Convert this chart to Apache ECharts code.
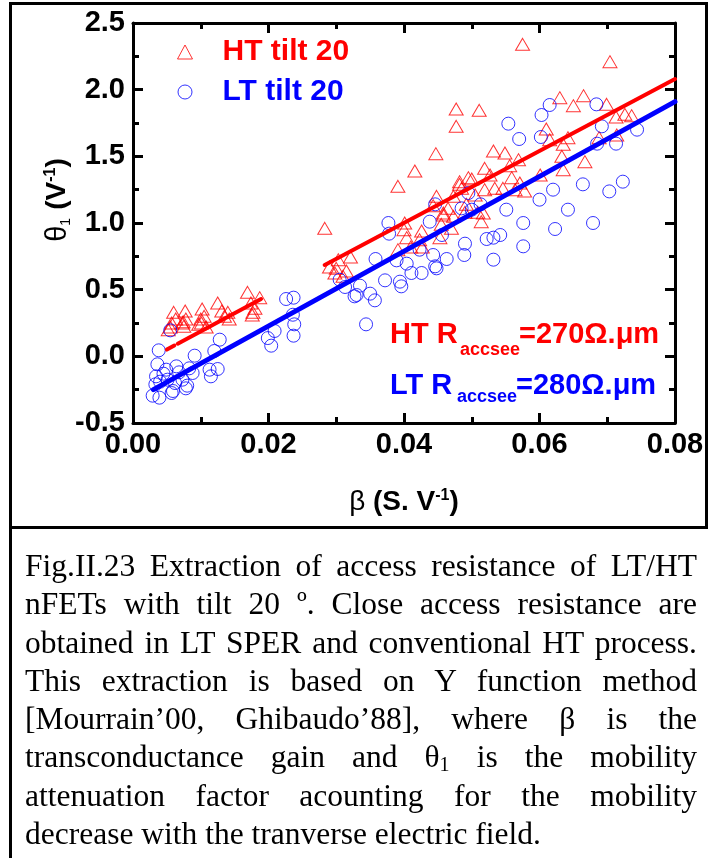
<!DOCTYPE html>
<html>
<head>
<meta charset="utf-8">
<script src="https://cdn.jsdelivr.net/npm/echarts@6/dist/echarts.min.js"></script>
<style>
  html, body { margin: 0; padding: 0; background: #fff; }
  #wrap { position: relative; width: 708px; height: 858px; overflow: hidden; background: #fff; }
  #chart { position: absolute; left: 0; top: 0; width: 708px; height: 858px; }
  .bar { position: absolute; background: #000; z-index: 5; }
  #caption { position: absolute; left: 25px; top: 547px; width: 672px; z-index: 6;
    font-family: "Liberation Serif", "Times New Roman", serif; font-size: 31.5px; line-height: 38.3px; color: #000; }
  #caption .j { text-align: justify; text-align-last: justify; }
  #caption .l { text-align: left; }
  #caption .sub { font-size: 20px; vertical-align: -4px; line-height: 0; }
</style>
</head>
<body>
<div id="wrap">
  <div id="chart"></div>
  <div class="bar" style="left:9px;top:2px;width:699px;height:3px;"></div>
  <div class="bar" style="left:9px;top:2px;width:3px;height:856px;"></div>
  <div class="bar" style="left:705px;top:2px;width:3px;height:527px;"></div>
  <div class="bar" style="left:9px;top:526px;width:699px;height:3px;"></div>
  <div id="caption">
    <div class="j">Fig.II.23 Extraction of access resistance of LT/HT</div>
    <div class="j">nFETs with tilt 20 º. Close access resistance are</div>
    <div class="j">obtained in LT SPER and conventional HT process.</div>
    <div class="j">This extraction is based on Y function method</div>
    <div class="j">[Mourrain’00, Ghibaudo’88], where β is the</div>
    <div class="j">transconductance gain and θ<span class="sub">1</span> is the mobility</div>
    <div class="j">attenuation factor acounting for the mobility</div>
    <div class="l">decrease with the tranverse electric field.</div>
  </div>
</div>
<script>
// ---- data (beta in S/V, theta1 in 1/V) ----
const seriesNames = ['HT tilt 20', 'LT tilt 20'];
const xRange = [0, 0.08, 0.02];
const yRange = [-0.5, 2.5, 0.5];

const htData = [
  [0.0052,0.20],[0.0055,0.22],[0.0057,0.25],[0.0060,0.33],[0.0063,0.28],[0.0073,0.25],[0.0074,0.26],
  [0.0075,0.225],[0.0077,0.34],[0.0078,0.28],[0.0097,0.24],[0.0100,0.28],[0.0101,0.25],[0.0102,0.355],
  [0.0105,0.30],[0.0108,0.22],[0.0125,0.40],[0.0131,0.34],[0.0135,0.30],[0.0140,0.33],[0.0142,0.28],
  [0.0169,0.48],[0.0174,0.40],[0.0176,0.31],[0.0177,0.33],[0.0180,0.36],[0.0187,0.44],
  [0.0283,0.96],[0.0290,0.67],[0.0298,0.625],[0.0300,0.66],[0.0303,0.725],[0.0310,0.60],[0.0315,0.64],
  [0.0321,0.745],[0.0391,0.80],[0.0391,1.275],[0.0401,1.00],[0.0400,0.95],[0.0404,0.89],[0.0410,0.82],
  [0.0416,1.39],[0.0423,0.875],[0.0426,0.94],[0.0427,0.82],[0.0447,1.52],[0.0448,1.20],[0.0443,1.13],
  [0.0455,0.99],[0.0458,1.06],[0.0453,0.89],[0.0458,1.075],[0.0465,1.11],[0.0470,0.96],[0.0473,1.05],
  [0.0473,1.20],[0.0477,1.855],[0.0477,1.725],[0.0482,1.29],[0.0482,1.31],[0.0485,1.26],[0.0490,1.08],
  [0.0492,1.14],[0.0495,1.34],[0.0500,1.33],[0.0505,1.21],[0.0509,1.08],[0.0511,1.845],[0.0514,1.01],
  [0.0517,1.075],[0.0519,1.41],[0.0519,1.25],[0.0527,1.36],[0.0532,1.54],[0.0534,1.26],[0.0546,1.26],
  [0.0549,1.525],[0.0556,1.43],[0.0559,1.34],[0.0564,1.25],[0.0569,1.475],[0.0571,1.30],[0.0575,2.34],
  [0.0578,1.24],[0.0601,1.36],[0.0610,1.705],[0.0615,1.625],[0.0630,1.94],[0.0633,1.50],[0.0635,1.40],
  [0.0635,1.59],[0.0642,1.64],[0.0650,1.88],[0.0665,1.955],[0.0667,1.46],[0.0688,1.64],[0.0699,1.89],
  [0.0704,2.21],[0.0713,1.795],[0.0714,1.66],[0.0726,1.815],[0.0736,1.805]
];

const ltData = [
  [0.0029,-0.295],[0.0033,-0.21],[0.0034,-0.15],[0.0036,-0.06],[0.0038,0.045],[0.0039,-0.31],[0.0040,-0.19],
  [0.0045,-0.13],[0.0049,-0.10],[0.0051,-0.175],[0.0055,0.195],[0.0057,-0.275],[0.0059,-0.26],[0.0062,-0.20],
  [0.0064,-0.075],[0.0068,-0.12],[0.0073,-0.175],[0.0078,-0.24],[0.0080,-0.22],[0.0083,-0.09],[0.0088,-0.125],
  [0.0091,0.005],[0.0113,-0.10],[0.0115,-0.15],[0.0120,0.04],[0.0125,-0.095],[0.0128,0.125],[0.0199,0.137],
  [0.0204,0.08],[0.0209,0.19],[0.0226,0.43],[0.0237,0.44],[0.0236,0.312],[0.0238,0.24],[0.0237,0.155],
  [0.0305,0.575],[0.0313,0.52],[0.0327,0.45],[0.0330,0.46],[0.0335,0.53],[0.0344,0.24],[0.0350,0.47],
  [0.0357,0.42],[0.0358,0.73],[0.0372,0.57],[0.0377,1.00],[0.0378,0.92],[0.0389,0.72],[0.0394,0.56],
  [0.0396,0.525],[0.0404,0.695],[0.0411,0.625],[0.0423,0.80],[0.0426,0.625],[0.0438,1.01],[0.0443,0.76],
  [0.0446,1.14],[0.0446,0.675],[0.0448,0.66],[0.0456,0.91],[0.0463,0.73],[0.0485,1.11],[0.0489,0.76],
  [0.0490,0.845],[0.0495,1.225],[0.0500,1.10],[0.0513,1.14],[0.0522,0.88],[0.0532,0.89],[0.0532,0.725],
  [0.0542,0.91],[0.0551,1.10],[0.0554,1.745],[0.0570,1.63],[0.0576,1.00],[0.0576,0.825],[0.0600,1.175],
  [0.0602,1.645],[0.0603,1.81],[0.0615,1.885],[0.0620,1.25],[0.0623,0.955],[0.0642,1.10],[0.0664,1.29],
  [0.0679,1.00],[0.0684,1.89],[0.0685,1.595],[0.0692,1.725],[0.0703,1.237],[0.0713,1.595],[0.0723,1.31],
  [0.0744,1.70]
];

// fitted lines
const htFitA = [[0.0050,0.051],[0.0061,0.081]];
const htFitB = [[0.0066,0.095],[0.0189,0.43]];
const htFitC = [[0.0283,0.685],[0.0800,2.08]];
const ltFit  = [[0.0030,-0.25],[0.0800,1.91]];

const RED = '#ff0000', BLUE = '#0000ff';
const SANS = '"Liberation Sans", Arial, sans-serif';

function axisCommon(isX, labels) {
  const r = isX ? xRange : yRange;
  return {
    type: 'value', min: r[0], max: r[1], interval: r[2],
    axisLine: { show: true, onZero: false, lineStyle: { color: '#000', width: 3 } },
    axisTick: { show: true, inside: true, length: 10, lineStyle: { color: '#000', width: 3 } },
    minorTick: { show: true, splitNumber: 2, length: 6, lineStyle: { color: '#000', width: 3 } },
    splitLine: { show: false },
    minorSplitLine: { show: false },
    axisLabel: labels ? {
      show: true, color: '#000', fontSize: 29, fontWeight: 'bold', fontFamily: SANS,
      margin: isX ? 7 : 8,
      formatter: v => isX ? v.toFixed(2) : v.toFixed(1)
    } : { show: false }
  };
}

const chart = echarts.init(document.getElementById('chart'), null, { renderer: 'canvas' });

const lineSeries = (data, color, width) => ({
  type: 'line', data: data, xAxisIndex: 0, yAxisIndex: 0,
  symbol: 'none', showSymbol: false, silent: true, z: 4,
  lineStyle: { color: color, width: width, cap: 'round' },
  animation: false
});

const txt = (text, x, y, size, color, weight) => ({
  type: 'text', x: x, y: y, z: 10, silent: true,
  style: { text: text, fill: color, fontSize: size, fontWeight: weight || 'bold', fontFamily: SANS,
           align: 'left', verticalAlign: 'middle' }
});

chart.setOption({
  animation: false,
  backgroundColor: '#fff',
  grid: { left: 133, right: 33, top: 23, bottom: 435, containLabel: false },
  xAxis: [
    Object.assign(axisCommon(true, true), { position: 'bottom' }),
    Object.assign(axisCommon(true, false), { position: 'top' })
  ],
  yAxis: [
    Object.assign(axisCommon(false, true), { position: 'left' }),
    Object.assign(axisCommon(false, false), { position: 'right' })
  ],
  legend: {
    orient: 'vertical', left: 172, top: 32,
    itemWidth: 15, itemHeight: 14, itemGap: 10,
    selectedMode: false,
    itemStyle: { borderWidth: 1 },
    textStyle: { fontSize: 30, fontWeight: 'bold', fontFamily: SANS, padding: [0, 0, 0, 25] },
    data: [
      { name: seriesNames[0], textStyle: { color: RED } },
      { name: seriesNames[1], textStyle: { color: BLUE } }
    ]
  },
  series: [
    {
      name: seriesNames[0], type: 'scatter', data: htData, symbol: 'triangle', symbolSize: [14, 12], z: 2,
      itemStyle: { color: 'rgba(0,0,0,0)', borderColor: RED, borderWidth: 1 }
    },
    {
      name: seriesNames[1], type: 'scatter', data: ltData, symbol: 'circle', symbolSize: 13, z: 2,
      itemStyle: { color: 'rgba(0,0,0,0)', borderColor: BLUE, borderWidth: 1 }
    },
    lineSeries(htFitA, RED, 4),
    lineSeries(htFitB, RED, 4),
    lineSeries(htFitC, RED, 4),
    lineSeries(ltFit, BLUE, 5)
  ],
  graphic: [
    txt('HT R', 390, 335, 29, RED),
    txt('accsee', 460, 350.5, 18, RED),
    txt('=270Ω.μm', 519, 335, 29, RED),
    txt('LT R', 390, 386, 29, BLUE),
    txt('accsee', 457, 397.5, 18, BLUE),
    txt('=280Ω.μm', 516, 386, 29, BLUE),
    {
      type: 'text', x: 404, y: 488, z: 10,
      style: {
        text: '{g|β }{b|(S. V}{p|-1}{b|)}',
        align: 'center', verticalAlign: 'top',
        rich: {
          g: { fontSize: 28, fontFamily: SANS, fill: '#000', lineHeight: 30, verticalAlign: 'top' },
          b: { fontSize: 28, fontWeight: 'bold', fontFamily: SANS, fill: '#000', lineHeight: 30, verticalAlign: 'top' },
          p: { fontSize: 16, fontWeight: 'bold', fontFamily: SANS, fill: '#000', lineHeight: 16, verticalAlign: 'top' }
        }
      }
    },
    {
      type: 'text', x: 58, y: 200, rotation: Math.PI / 2, z: 10,
      style: {
        text: '{g|θ}{s|1}{g| }{b|(V}{p|-1}{b|)}',
        align: 'center', verticalAlign: 'middle',
        rich: {
          g: { fontSize: 29, fontFamily: SANS, fill: '#000', lineHeight: 30, verticalAlign: 'top' },
          s: { fontSize: 14, fontFamily: SANS, fill: '#000', lineHeight: 14, padding: [20, 0, 0, 0], verticalAlign: 'bottom' },
          b: { fontSize: 28, fontWeight: 'bold', fontFamily: SANS, fill: '#000', lineHeight: 30, verticalAlign: 'top' },
          p: { fontSize: 16, fontWeight: 'bold', fontFamily: SANS, fill: '#000', lineHeight: 16, verticalAlign: 'top' }
        }
      }
    }
  ]
});
</script>
</body>
</html>
